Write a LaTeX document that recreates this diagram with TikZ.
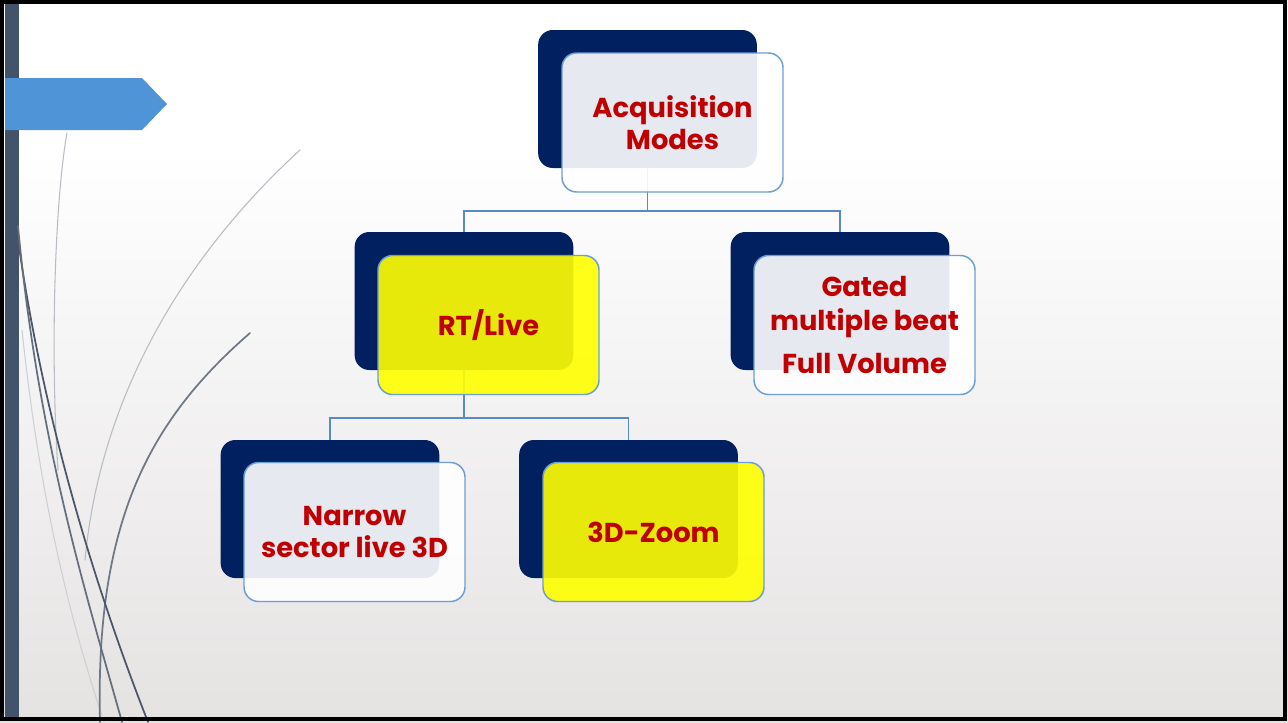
\documentclass[tikz,border=0pt]{standalone}
\usepackage{fontspec}
\setmainfont{Poppins}
\usetikzlibrary{calc}
\definecolor{navy}{HTML}{002060}
\definecolor{edgeblue}{HTML}{6A9FD6}
\definecolor{connblue}{HTML}{5A8AC0}
\definecolor{txtred}{HTML}{C00000}
\definecolor{arrowblue}{HTML}{4F94D6}
\definecolor{barslate}{HTML}{43536A}
\definecolor{bgbot}{HTML}{E5E2E2}
\definecolor{curvedark}{HTML}{4A5566}
\definecolor{curvelight}{HTML}{B8BCC4}
\definecolor{boxyellow}{HTML}{FFFF00}
\begin{document}
\begin{tikzpicture}[x=0.75pt,y=-0.75pt,
  darkbox/.style={fill=navy, rounded corners=11pt, minimum width=164pt, minimum height=103.5pt, inner sep=0pt},
  lightbox/.style={draw=edgeblue, line width=1.1pt, fill=white, fill opacity=0.9, text opacity=1,
    rounded corners=11pt, minimum width=165.75pt, minimum height=104.25pt, inner sep=0pt,
    align=center, text=txtred, font=\bfseries\fontsize{20.5}{24}\selectfont},
  yellowbox/.style={lightbox, fill=boxyellow},
  connector/.style={draw=connblue, line width=1.1pt},
  deco/.style={line width=1.3pt, line cap=round}]
\useasboundingbox (0,0) rectangle (1288,722);
% background
\fill[white] (0,0) rectangle (1288,151);
\shade[top color=white, bottom color=bgbot] (0,150) rectangle (1288,722);
% left bar
\fill[barslate] (5,4) rectangle (19,718);
% decorative curves
\draw[deco, curvelight, line width=0.8pt] (300,150) .. controls (180,260) and (100,400) .. (85,560);
\draw[deco, curvelight, line width=0.8pt] (67,133) .. controls (55,200) and (50,350) .. (58,470);
\draw[deco, curvelight!70, line width=0.8pt] (22,330) .. controls (40,500) and (70,620) .. (104,722);
\draw[deco, curvedark!80] (250,333) .. controls (150,420) and (95,520) .. (100,722);
\draw[deco, curvedark] (18,240) .. controls (45,430) and (100,600) .. (148,722);
\draw[deco, curvedark!85] (18,226) .. controls (38,440) and (85,590) .. (122,722);
% arrow
\fill[arrowblue] (5,78) -- (142,78) -- (167,104) -- (142,130) -- (5,130) -- cycle;
% frame
\draw[black, line width=3pt] (2,2) rectangle (1285,719);
% junction coordinates
\coordinate (j1) at (647.5,211);
\coordinate (j2) at (464,418);
% dark boxes
\node[darkbox] (topd) at (647.5,99) {};
\node[darkbox] (rtd) at (464,301) {};
\node[darkbox] (gd) at (840,301) {};
\node[darkbox] (nd) at (330,509) {};
\node[darkbox] (zd) at (628.5,509) {};
% connectors
\draw[connector] (topd.south) -- (j1);
\draw[connector] (j1) -| (rtd.north);
\draw[connector] (j1) -| (gd.north);
\draw[connector] (rtd.south) -- (j2);
\draw[connector] (j2) -| (nd.north);
\draw[connector] (j2) -| (zd.north);
% light boxes
\node[lightbox] (topl) at (672.5,122.5) {Acquisition\\Modes};
\node[yellowbox] (rtl) at (488.5,325) {RT/Live};
\node[lightbox, font=\bfseries\fontsize{20.5}{25.5}\selectfont] (gl) at (864.5,325) {Gated\\multiple beat\\[7pt]Full Volume};
\node[lightbox] (nl) at (354.5,532) {Narrow\\sector live 3D};
\node[yellowbox] (zl) at (653.5,532) {3D-Zoom};
\end{tikzpicture}
\end{document}
